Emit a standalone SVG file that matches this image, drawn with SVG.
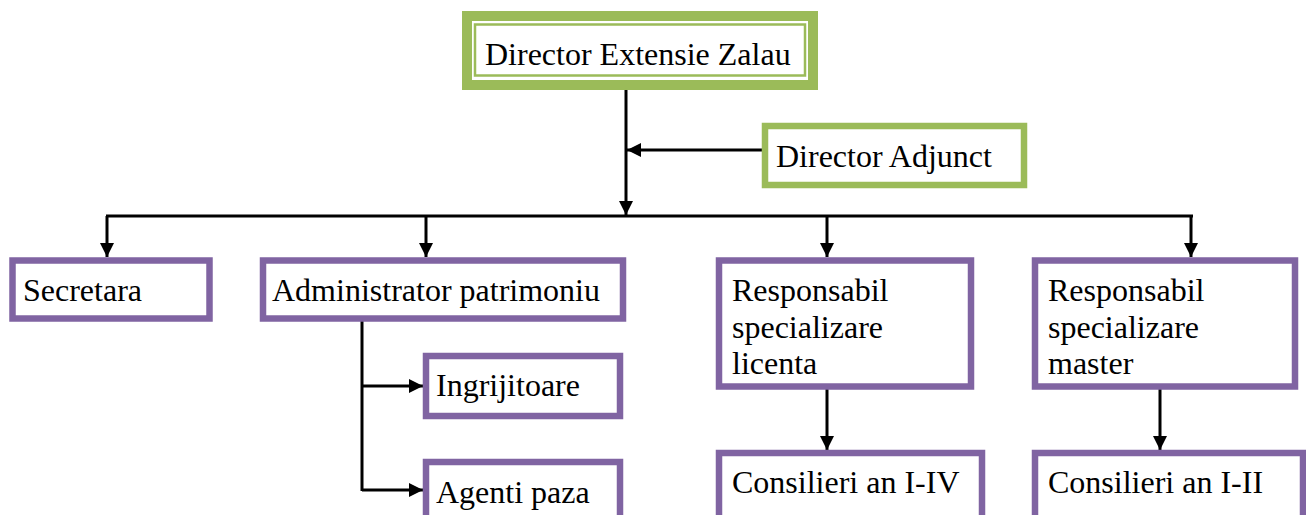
<svg xmlns="http://www.w3.org/2000/svg" width="1306" height="515" viewBox="0 0 1306 515">
<defs>
<style>
.t{font-family:"Liberation Serif","Times New Roman",serif;font-size:32px;fill:#000}
.p{fill:#fff;stroke:#8064A2;stroke-width:6.5}
.g{fill:#fff;stroke:#9BBB59;stroke-width:6.5}
.c{fill:none;stroke:#000;stroke-width:3}
</style>
<marker id="a" viewBox="0 0 10 10" refX="10" refY="5" markerWidth="15" markerHeight="14" markerUnits="userSpaceOnUse" orient="auto">
<path d="M0,0L10,5L0,10z" fill="#000"/>
</marker>
</defs>
<rect width="1306" height="515" fill="#fff"/>
<g id="connectors">
<path class="c" d="M626,90V215" marker-end="url(#a)"/>
<path class="c" d="M763,150H627" marker-end="url(#a)"/>
<path class="c" d="M106,216H1193"/>
<path class="c" d="M107,216V257" marker-end="url(#a)"/>
<path class="c" d="M426,216V257" marker-end="url(#a)"/>
<path class="c" d="M827,216V257" marker-end="url(#a)"/>
<path class="c" d="M1191,216V257" marker-end="url(#a)"/>
<path class="c" d="M362,321V491"/>
<path class="c" d="M362,386H423" marker-end="url(#a)"/>
<path class="c" d="M362,490H423" marker-end="url(#a)"/>
<path class="c" d="M827,389V450" marker-end="url(#a)"/>
<path class="c" d="M1160,389V450" marker-end="url(#a)"/>
</g>
<g id="director">
<rect x="467" y="16" width="346" height="69" fill="#fff" stroke="#9BBB59" stroke-width="10"/>
<rect x="475" y="24.5" width="330" height="51" fill="#fff" stroke="#9BBB59" stroke-width="2.5"/>
<text class="t" x="485" y="65">Director Extensie Zalau</text>
</g>
<g id="adjunct">
<rect class="g" x="765" y="126" width="259" height="59"/>
<text class="t" x="776" y="167">Director Adjunct</text>
</g>
<g id="secretara">
<rect class="p" x="12.5" y="260.5" width="197" height="58"/>
<text class="t" x="23" y="301">Secretara</text>
</g>
<g id="administrator">
<rect class="p" x="263" y="260.5" width="360" height="58"/>
<text class="t" x="272" y="301">Administrator patrimoniu</text>
</g>
<g id="licenta">
<rect class="p" x="719" y="260.5" width="252" height="126"/>
<text class="t" x="732" y="301">Responsabil</text>
<text class="t" x="732" y="338">specializare</text>
<text class="t" x="732" y="374">licenta</text>
</g>
<g id="master">
<rect class="p" x="1035" y="260.5" width="260" height="126"/>
<text class="t" x="1048" y="301">Responsabil</text>
<text class="t" x="1048" y="338">specializare</text>
<text class="t" x="1048" y="374">master</text>
</g>
<g id="ingrijitoare">
<rect class="p" x="426" y="356" width="194" height="60"/>
<text class="t" x="436" y="396">Ingrijitoare</text>
</g>
<g id="agenti">
<rect class="p" x="426" y="462" width="194" height="60"/>
<text class="t" x="436" y="503">Agenti paza</text>
</g>
<g id="consilieri4">
<rect class="p" x="719" y="453" width="263" height="70"/>
<text class="t" x="732" y="493">Consilieri an I-IV</text>
</g>
<g id="consilieri2">
<rect class="p" x="1035" y="453" width="268" height="70"/>
<text class="t" x="1048" y="493">Consilieri an I-II</text>
</g>
</svg>
